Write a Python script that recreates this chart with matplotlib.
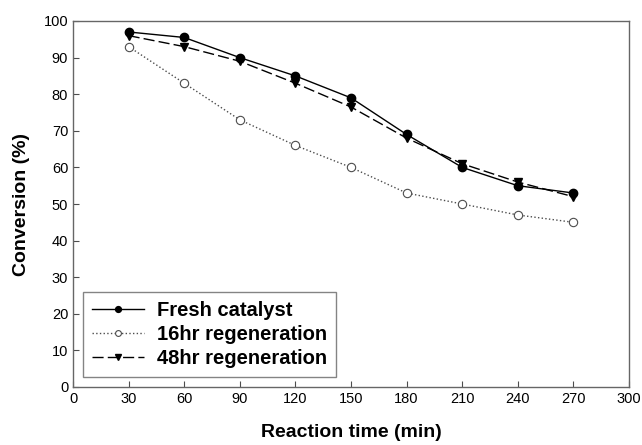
import numpy as np
import matplotlib
matplotlib.use('Agg')
import matplotlib.pyplot as plt

plt.rcParams['font.family'] = ['Liberation Sans', 'DejaVu Sans']

# data
time = [30, 60, 90, 120, 150, 180, 210, 240, 270]
fresh = [97, 95.5, 90, 85, 79, 69, 60, 55, 53]
regen16 = [93, 83, 73, 66, 60, 53, 50, 47, 45]
regen48 = [96, 93, 89, 83, 76.5, 68, 61, 56, 52]
labels = ['Fresh catalyst', '16hr regeneration', '48hr regeneration']

fig = plt.figure(figsize=(6.42, 4.45), dpi=100)
ax = fig.add_axes([73/642, 1 - 387/445, 556/642, 366/445])

ax.plot(time, fresh, '-', color='black', lw=1, marker='o', ms=6,
        mfc='black', mec='black', label=labels[0])
ax.plot(time, regen16, ':', color='0.3', lw=1, marker='o', ms=6,
        mfc='white', mec='0.3', mew=0.8, label=labels[1])
ax.plot(time, regen48, color='black', lw=1, dashes=(8, 3), marker='v', ms=6,
        mfc='black', mec='black', label=labels[2])

ax.set_xlim(0, 300)
ax.set_ylim(0, 100)
ax.set_xticks(np.arange(0, 301, 30))
ax.set_yticks(np.arange(0, 101, 10))
ax.tick_params(direction='in', length=4, labelsize=10.5, top=False, right=False, color='0.3')
for s in ax.spines.values():
    s.set_color('0.4')
    s.set_linewidth(1)

ax.set_xlabel('Reaction time (min)', fontsize=14, fontweight='bold', labelpad=13)
ax.set_ylabel('Conversion (%)', fontsize=14, fontweight='bold', labelpad=10)

leg = ax.legend(loc='lower left', bbox_to_anchor=(0.0, 0.0),
                prop={'weight': 'bold', 'size': 14.5}, fancybox=False,
                edgecolor='0.4', handlelength=2.6, borderpad=0.45, labelspacing=0.25,
                markerscale=0.7, handletextpad=0.6)
leg.get_frame().set_linewidth(1)

fig.savefig('out.png', dpi=100)
